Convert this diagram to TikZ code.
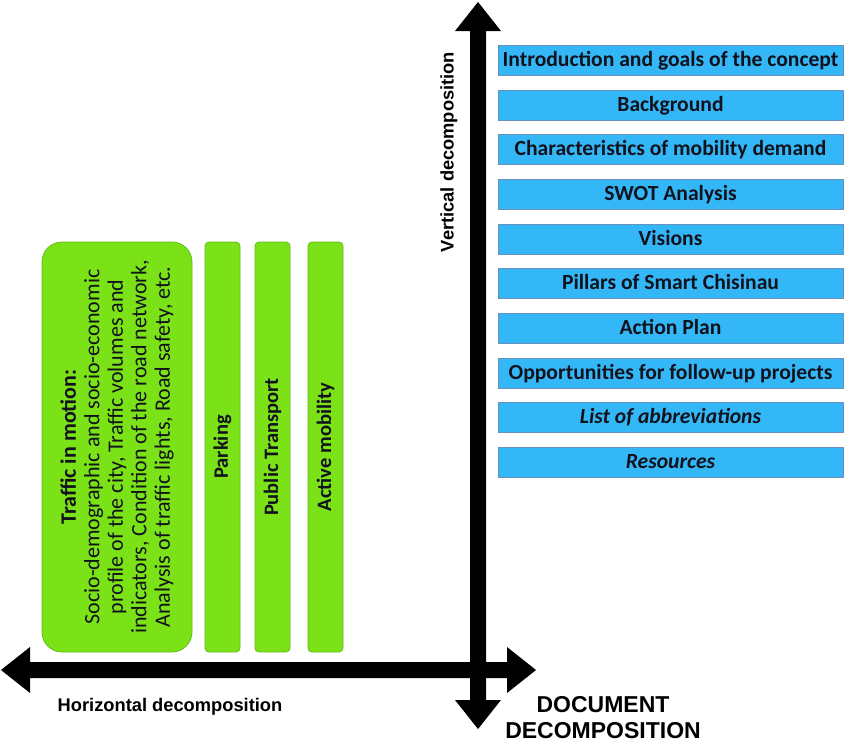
\documentclass[tikz,border=0pt]{standalone}
\usepackage{fontspec}
\setmainfont{Carlito}
\newfontfamily\arialfont{Liberation Sans}
\usetikzlibrary{calc}
\definecolor{boxblue}{RGB}{51,183,247}
\definecolor{blueedge}{RGB}{105,145,190}
\definecolor{boxgreen}{RGB}{122,226,22}
\definecolor{greenedge}{RGB}{98,188,22}
\definecolor{darktext}{RGB}{18,18,28}
\begin{document}
\begin{tikzpicture}[x=1pt,y=-1pt,
  chapter/.style={draw=blueedge, line width=1pt, fill=boxblue, minimum width=345pt,
    minimum height=30pt, inner sep=0pt, text height=15pt, text depth=2pt, text=darktext,
    font=\fontsize{21.6}{24}\selectfont\bfseries},
  pillar/.style={draw=greenedge, line width=0.8pt, fill=boxgreen, rounded corners=4pt,
    rotate=90, minimum width=410pt, minimum height=35pt, inner sep=0pt, text=darktext,
    font=\fontsize{20.5}{23}\selectfont\bfseries},
  bigpillar/.style={pillar, rounded corners=20pt, minimum height=150pt, align=center,
    font=\fontsize{22}{23.5}\selectfont},
  axislabel/.style={inner sep=0pt, text=black, font=\arialfont\bfseries\fontsize{18.3}{20}\selectfont}
]
\useasboundingbox (0,0) rectangle (850,747);

% axes
\coordinate (hL) at (1,670);
\coordinate (hR) at (536,670);
\coordinate (vT) at (478,2);
\coordinate (vB) at (478,729);
\fill[black] (hL) -- ++(29,-23) -- ++(0,15) -- ($(hR)+(-29,-8)$) -- ++(0,-15) -- (hR)
  -- ++(-29,23) -- ++(0,-15) -- ($(hL)+(29,8)$) -- ++(0,15) -- cycle;
\fill[black] (vT) -- ++(23,29) -- ++(-15,0) -- ($(vB)+(8,-29)$) -- ++(15,0) -- (vB)
  -- ++(-23,-29) -- ++(15,0) -- ($(vT)+(-8,29)$) -- ++(-15,0) -- cycle;

% vertical decomposition chapters
\node[chapter] (c1) at (670.5,60) {Introduction and goals of the concept};
\node[chapter] (c2) at (670.5,105) {Background};
\node[chapter] (c3) at (670.5,149) {Characteristics of mobility demand};
\node[chapter] (c4) at (670.5,194) {SWOT Analysis};
\node[chapter] (c5) at (670.5,239) {Visions};
\node[chapter] (c6) at (670.5,283) {Pillars of Smart Chisinau};
\node[chapter] (c7) at (670.5,328) {Action Plan};
\node[chapter] (c8) at (670.5,373) {Opportunities for follow-up projects};
\node[chapter] (c9) at (670.5,417) {\itshape List of abbreviations};
\node[chapter] (c10) at (670.5,462) {\itshape Resources};

% horizontal decomposition pillars
\node[bigpillar] (p1) at (117,447) {\textbf{Traffic in motion:}\\
  Socio-demographic and socio-economic\\
  profile of the city, Traffic volumes and\\
  indicators, Condition of the road network,\\
  Analysis of traffic lights, Road safety, etc.};
\node[pillar] (p2) at (222.5,447) {Parking};
\node[pillar] (p3) at (272.5,447) {Public Transport};
\node[pillar] (p4) at (325.5,447) {Active mobility};

% labels
\node[axislabel, rotate=90] (vlab) at (449,152) {Vertical decomposition};
\node[axislabel, anchor=base] (hlab) at (170,711) {Horizontal decomposition};
\node[axislabel, anchor=base, align=center,
  font=\arialfont\bfseries\fontsize{23}{26}\selectfont] (dlab) at (603,738)
  {DOCUMENT\\DECOMPOSITION};
\end{tikzpicture}
\end{document}
